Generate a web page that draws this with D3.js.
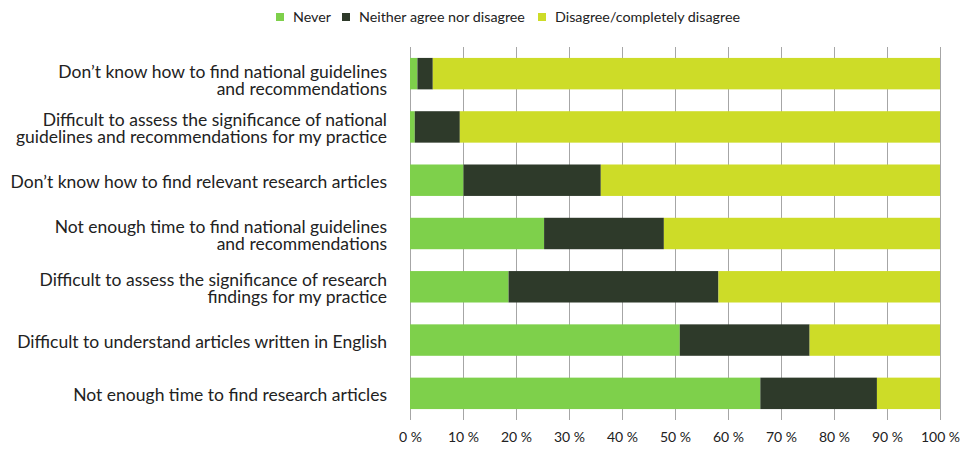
<!DOCTYPE html>
<html><head><meta charset="utf-8">
<script src="https://cdn.jsdelivr.net/npm/d3@7"></script>
<style>body{margin:0;background:#fff}svg{display:block}</style>
</head><body>
<svg id="chart" width="960" height="450"></svg>
<script>
const categories = [
  ["Don’t know how to find national guidelines", "and recommendations"],
  ["Difficult to assess the significance of national", "guidelines and recommendations for my practice"],
  ["Don’t know how to find relevant research articles"],
  ["Not enough time to find national guidelines", "and recommendations"],
  ["Difficult to assess the significance of research", "findings for my practice"],
  ["Difficult to understand articles written in English"],
  ["Not enough time to find research articles"]
];
const seriesNames = ["Never", "Neither agree nor disagree", "Disagree/completely disagree"];
const never    = [1.4, 0.9, 10.1, 25.3, 18.6, 50.9, 66.1];
const neither  = [2.9, 8.5, 25.9, 22.6, 39.6, 24.5, 22.0];
const disagree = [95.7, 90.6, 64.0, 52.1, 41.8, 24.6, 11.9];
const tickValues = [0,10,20,30,40,50,60,70,80,90,100];
const colors = ["#7ed04b", "#2e3a2a", "#cddc28"];

const svg = d3.select("#chart");
const font = "Lato, 'Open Sans', sans-serif";
const x = d3.scaleLinear().domain([0,100]).range([410, 940]);
const y = d3.scaleBand().domain(d3.range(categories.length)).range([47, 420]).paddingInner(0.41).paddingOuter(0.205);

// gridlines
svg.append("g").selectAll("line").data(tickValues).join("line")
  .attr("x1", d => Math.round(x(d)) + 0.5).attr("x2", d => Math.round(x(d)) + 0.5)
  .attr("y1", 47).attr("y2", 420)
  .attr("stroke", "#a6a6a6").attr("stroke-width", 1);

const rows = categories.map((c,i) => ({i, vals:[never[i], neither[i], disagree[i]]}));
const stack = d3.stack().keys([0,1,2]).value((d,k) => d.vals[k]);
const stacked = stack(rows);

const g = svg.append("g");
stacked.forEach((layer, k) => {
  g.selectAll(null).data(layer).join("rect")
    .attr("x", d => x(d[0]))
    .attr("width", d => x(d[1]) - x(d[0]))
    .attr("y", d => y(d.data.i))
    .attr("height", y.bandwidth())
    .attr("fill", colors[k]);
});

// x axis labels
const xAxis = d3.axisBottom(x).tickValues(tickValues).tickFormat(d => d + " %").tickSize(0).tickPadding(0);
const ax = svg.append("g").attr("transform", "translate(0,432)").call(xAxis);
ax.select(".domain").remove();
ax.selectAll("text").attr("font-family", font).attr("font-size", 14).attr("fill", "#222").attr("dy", "0.71em");

// y labels
const yl = svg.append("g");
const lh = 16.8;
categories.forEach((lines, i) => {
  const cy = y(i) + y.bandwidth()/2 + 1.5;
  let firstY = cy - (lines.length-1)/2 * lh;
  firstY = Math.max(firstY, 72);
  const t = yl.append("text").attr("text-anchor", "end").attr("font-family", font)
    .attr("font-size", 17.5).attr("fill", "#222");
  lines.forEach((ln, j) => {
    t.append("tspan").attr("x", 387).attr("y", firstY + j * lh).attr("dy", "0.35em").text(ln);
  });
});

// legend
const legendX = [276, 342, 538];
const lg = svg.append("g");
seriesNames.forEach((s, k) => {
  lg.append("rect").attr("x", legendX[k]).attr("y", 13).attr("width", 8).attr("height", 8).attr("fill", colors[k]);
  lg.append("text").attr("x", legendX[k] + 17).attr("y", 17).attr("dy", "0.35em")
    .attr("font-family", font).attr("font-size", 14.3).attr("fill", "#222").text(s);
});
</script>
</body></html>
